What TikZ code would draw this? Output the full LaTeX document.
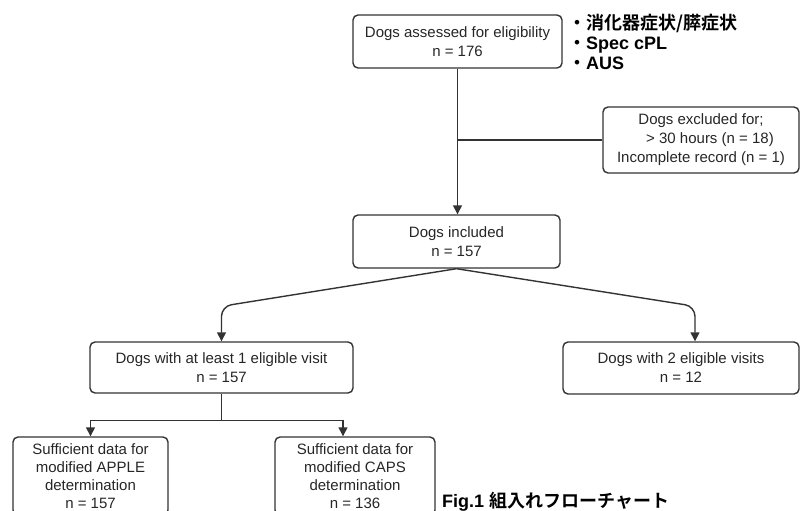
\documentclass[tikz,border=0pt]{standalone}
\usepackage{fontspec}
\setmainfont{Liberation Sans}
\newfontfamily\cjk{Noto Sans CJK JP}[BoldFont={Noto Sans CJK JP Bold}]
\usetikzlibrary{arrows.meta}

\tikzset{
  box/.style={draw=black!80, line width=1.4pt, rounded corners=5pt, align=center, inner sep=0pt,
    text=black!85, font=\fontsize{15}{19}\selectfont},
  link/.style={draw=black!80, line width=1.4pt},
  arr/.style={link, -{Triangle[width=9pt,length=9pt]}},
  note/.style={font=\bfseries\fontsize{18}{20}\selectfont, align=left, inner sep=0pt, anchor=west}
}

\begin{document}
\begin{tikzpicture}[x=1pt,y=-1pt]
\path[use as bounding box,clip] (0,0) rectangle (800,511);

\node[box, minimum width=209, minimum height=53] (assess) at (457.5,41.5) {Dogs assessed for eligibility\\n = 176};
\node[note] (crit) at (568,42) {{\cjk ・消化器症状/膵症状}\\{\cjk ・}Spec cPL\\{\cjk ・}AUS};
\node[box, minimum width=196, minimum height=66] (excl) at (701,140) {Dogs excluded for;\\\hspace{1.2em}> 30 hours (n = 18)\\Incomplete record (n = 1)};
\node[box, minimum width=207, minimum height=53] (incl) at (456.5,241.5) {Dogs included\\n = 157};
\node[box, minimum width=263, minimum height=51] (once) at (221.5,367.5) {Dogs with at least 1 eligible visit\\n = 157};
\node[box, minimum width=236, minimum height=52] (twice) at (681,368) {Dogs with 2 eligible visits\\n = 12};
\node[box, minimum width=155, minimum height=78, font=\fontsize{15}{18}\selectfont] (apple) at (90.5,476) {Sufficient data for\\modified APPLE\\determination\\n = 157};
\node[box, minimum width=160, minimum height=78, font=\fontsize{15}{18}\selectfont] (caps) at (355,476) {Sufficient data for\\modified CAPS\\determination\\n = 136};
\node[note] (fig) at (442,502) {Fig.1 {\cjk 組入れフローチャート}};

\draw[arr] (assess.south) -- (assess.south |- incl.north);
\draw[link] (assess.south |- excl.west) -- (excl.west);
\draw[arr, rounded corners=10pt] (incl.south) -- ([yshift=35]once.north) -- (once.north);
\draw[arr, rounded corners=10pt] (incl.south) -- ([xshift=14,yshift=35]twice.north) -- ([xshift=14]twice.north);

\coordinate (split) at ([yshift=-27]once.south);
\draw[link] (once.south) -- (split);
\draw[arr] (split) -| (apple.north);
\draw[arr] (split) -| ([xshift=-12]caps.north);
\end{tikzpicture}
\end{document}
